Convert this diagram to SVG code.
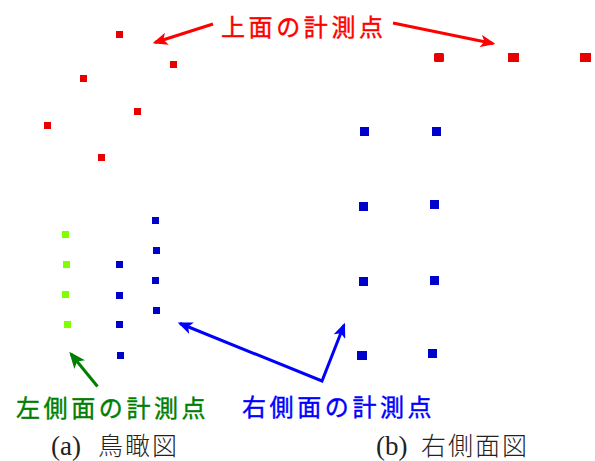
<svg xmlns="http://www.w3.org/2000/svg" width="595" height="461" viewBox="0 0 595 461">
<style>
.red{fill:#e60000}
.blue{fill:#0000cc}
.green{fill:#80ff00}
.lbl{font-family:"Noto Sans CJK JP","Noto Sans",sans-serif;font-size:24px;font-weight:400;letter-spacing:3.6px;stroke-width:0.4px}
.cap{font-family:"Liberation Serif","Noto Sans CJK JP",serif;font-size:27px;fill:#222}
.capj{font-family:"Noto Sans CJK JP",sans-serif;font-size:25px;font-weight:300;fill:#222;letter-spacing:2px}
.conn{fill:none;stroke-width:3}
</style>
<defs>
<marker id="ar" viewBox="0 0 12 10" refX="10" refY="5" markerWidth="5" markerHeight="4.2" orient="auto-start-reverse" markerUnits="strokeWidth">
<path d="M0,0 L12,5 L0,10 L3,5 z" fill="#ff0000"/>
</marker>
<marker id="ab" viewBox="0 0 12 10" refX="10" refY="5" markerWidth="5" markerHeight="4.2" orient="auto-start-reverse" markerUnits="strokeWidth">
<path d="M0,0 L12,5 L0,10 L3,5 z" fill="#0000ff"/>
</marker>
<marker id="ag" viewBox="0 0 12 10" refX="10" refY="5" markerWidth="5.5" markerHeight="4.6" orient="auto-start-reverse" markerUnits="strokeWidth">
<path d="M0,0 L12,5 L0,10 L3,5 z" fill="#008000"/>
</marker>
</defs>
<g id="top-points-a">
<rect class="red" x="116" y="31" width="7" height="7"/>
<rect class="red" x="170" y="61" width="7" height="7"/>
<rect class="red" x="80" y="75" width="7" height="7"/>
<rect class="red" x="134" y="108" width="7" height="7"/>
<rect class="red" x="44" y="122" width="7" height="7"/>
<rect class="red" x="98" y="154" width="7" height="7"/>
</g>
<g id="left-points-a">
<rect class="green" x="62" y="231" width="7" height="7"/>
<rect class="green" x="63" y="261" width="7" height="7"/>
<rect class="green" x="62" y="291" width="7" height="7"/>
<rect class="green" x="64" y="321" width="7" height="7"/>
</g>
<g id="right-points-a">
<rect class="blue" x="116" y="261" width="7" height="7"/>
<rect class="blue" x="116" y="292" width="7" height="7"/>
<rect class="blue" x="116" y="321" width="7" height="7"/>
<rect class="blue" x="117" y="352" width="7" height="7"/>
<rect class="blue" x="152" y="217" width="7" height="7"/>
<rect class="blue" x="153" y="247" width="7" height="7"/>
<rect class="blue" x="152" y="277" width="7" height="7"/>
<rect class="blue" x="153" y="307" width="7" height="7"/>
</g>
<g id="top-points-b">
<rect class="red" x="434" y="53" width="10" height="9" rx="1.5"/>
<rect class="red" x="508" y="53" width="11" height="9"/>
<rect class="red" x="580" y="53" width="11" height="9"/>
</g>
<g id="right-points-b">
<rect class="blue" x="360" y="127" width="9" height="9"/>
<rect class="blue" x="432" y="127" width="9" height="9"/>
<rect class="blue" x="359" y="202" width="9" height="9"/>
<rect class="blue" x="430" y="200" width="9" height="9"/>
<rect class="blue" x="359" y="277" width="9" height="9"/>
<rect class="blue" x="430" y="276" width="9" height="9"/>
<rect class="blue" x="357" y="351" width="10" height="9"/>
<rect class="blue" x="428" y="349" width="9" height="9"/>
</g>
<g id="connectors">
<line class="conn" stroke="#ff0000" x1="213" y1="24" x2="155" y2="42.5" marker-end="url(#ar)"/>
<line class="conn" stroke="#ff0000" x1="393" y1="23" x2="493" y2="43.5" marker-end="url(#ar)"/>
<polyline class="conn" stroke="#0000ff" points="180,323.5 322,381 344,325" marker-start="url(#ab)" marker-end="url(#ab)"/>
<line class="conn" stroke="#008000" stroke-width="2.5" x1="97.5" y1="386.5" x2="71" y2="354" marker-end="url(#ag)"/>
</g>
<g id="label-top">
<text class="lbl" x="221" y="35.5" fill="#ff0000" stroke="#ff0000">上面の計測点</text>
</g>
<g id="label-left">
<text class="lbl" x="16" y="417" fill="#008000" stroke="#008000">左側面の計測点</text>
</g>
<g id="label-right">
<text class="lbl" x="242" y="416" fill="#0000ff" stroke="#0000ff">右側面の計測点</text>
</g>
<g id="caption-a">
<text x="51" y="455"><tspan class="cap">(a)</tspan><tspan class="capj" x="98" y="455">鳥瞰図</tspan></text>
</g>
<g id="caption-b">
<text x="376" y="455"><tspan class="cap">(b)</tspan><tspan class="capj" x="421" y="455">右側面図</tspan></text>
</g>
</svg>
